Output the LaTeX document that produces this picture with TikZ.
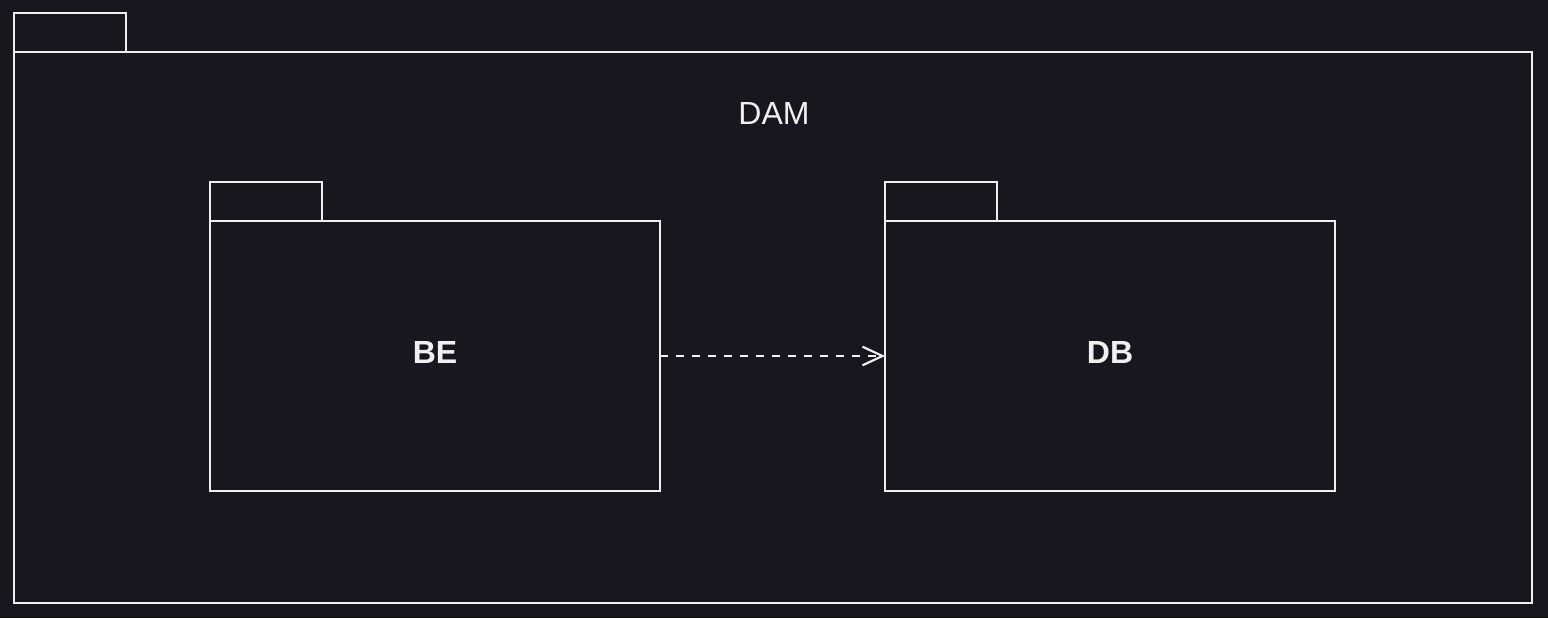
\documentclass[tikz,border=0pt]{standalone}
\usepackage{fontspec}
\setmainfont{Liberation Sans}
\usetikzlibrary{arrows.meta}
\definecolor{bg}{HTML}{18161F}
\definecolor{ln}{HTML}{F0F0F0}
\begin{document}
\begin{tikzpicture}[x=0.75pt,y=-0.75pt,
  box/.style={draw=ln,line width=1.6pt,inner sep=0pt,outer sep=0pt,rectangle},
  tab/.style={box,minimum width=84pt,minimum height=29.25pt,anchor=south west},
  pkg/.style={box,minimum width=337.5pt,minimum height=202.5pt,anchor=north west},
  lbl/.style={text=ln,font=\fontsize{24}{28}\selectfont},
  blbl/.style={lbl,font=\fontsize{24}{28}\selectfont\bfseries},
  dep/.style={draw=ln,line width=1.6pt,dash pattern=on 6pt off 6pt,-{Straight Barb[length=15pt,width=14pt,line width=1.6pt]}}]
\fill[bg] (0,0) rectangle (1548,618);
\useasboundingbox (0,0) rectangle (1548,618);
% outer package
\node[box,minimum width=1138.5pt,minimum height=413.25pt,anchor=north west] (dam) at (14,52) {};
\node[tab] (damtab) at (dam.north west) {};
\node[lbl] (damlbl) at (774,113) {DAM};
% BE
\node[pkg] (be) at (210,221) {};
\node[tab] (betab) at (be.north west) {};
\node[blbl] (belbl) at ([yshift=3pt]be.center) {BE};
% DB
\node[pkg] (db) at (885,221) {};
\node[tab] (dbtab) at (db.north west) {};
\node[blbl] (dblbl) at ([yshift=3pt]db.center) {DB};
% dependency
\draw[dep] (be.east) -- (db.west);
\end{tikzpicture}
\end{document}
